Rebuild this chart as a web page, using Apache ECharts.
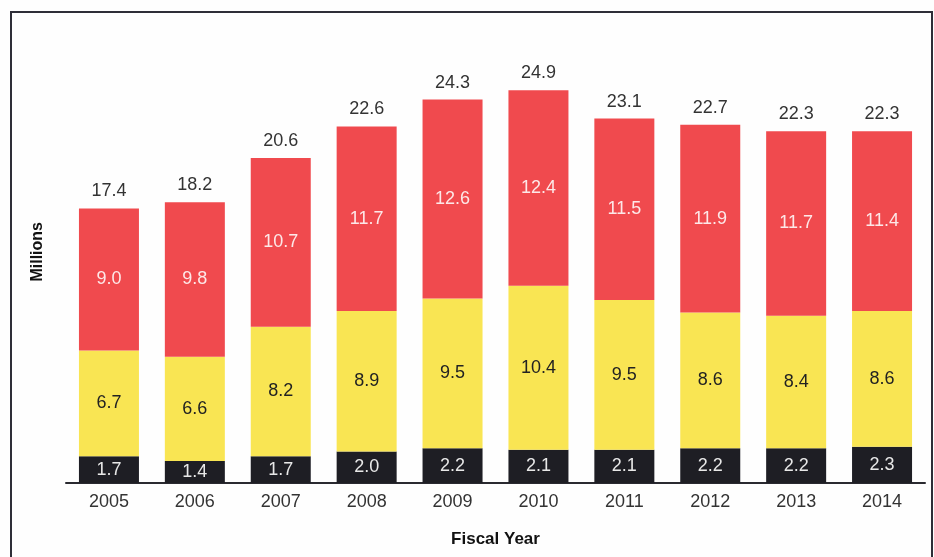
<!DOCTYPE html>
<html>
<head>
<meta charset="utf-8">
<script src="https://cdn.jsdelivr.net/npm/echarts@6/dist/echarts.min.js"></script>
<style>
html,body{margin:0;padding:0;background:#fefefe;}
#c{width:934px;height:557px;}
</style>
</head>
<body>
<div id="c"></div>
<script>
const years = ['2005','2006','2007','2008','2009','2010','2011','2012','2013','2014'];
const blackVals = [1.7,1.4,1.7,2.0,2.2,2.1,2.1,2.2,2.2,2.3];
const yellowVals = [6.7,6.6,8.2,8.9,9.5,10.4,9.5,8.6,8.4,8.6];
const redVals = [9.0,9.8,10.7,11.7,12.6,12.4,11.5,11.9,11.7,11.4];
const totals = [17.4,18.2,20.6,22.6,24.3,24.9,23.1,22.7,22.3,22.3];

const FONT = "'Liberation Sans', Arial, sans-serif";
const chart = echarts.init(document.getElementById('c'), null, {renderer:'canvas'});
const inLabel = (color) => ({
  show: true, position: 'inside', color: color, fontSize: 18, fontFamily: FONT,
  formatter: p => p.value.toFixed(1)
});
chart.setOption({
  animation: false,
  backgroundColor: '#fefefe',
  grid: {left: 66, right: 9, top: 57, bottom: 74},
  xAxis: {
    type: 'category', data: years,
    axisLine: {show: true, lineStyle: {color: '#2a2a30', width: 2}},
    axisTick: {show: false},
    axisLabel: {color: '#333', fontSize: 18, fontFamily: FONT, margin: 10},
    name: 'Fiscal Year', nameLocation: 'middle', nameGap: 48,
    nameTextStyle: {color: '#111', fontSize: 17, fontWeight: 'bold', fontFamily: FONT}
  },
  yAxis: {
    type: 'value', min: 0, max: 27,
    axisLine: {show: false}, axisTick: {show: false}, axisLabel: {show: false},
    splitLine: {show: false}
  },
  series: [
    {type: 'bar', stack: 's', data: blackVals, barWidth: 60,
     itemStyle: {color: '#1e1e24'}, label: inLabel('#e8e8e8')},
    {type: 'bar', stack: 's', data: yellowVals, barWidth: 60,
     itemStyle: {color: '#f9e553'}, label: inLabel('#222')},
    {type: 'bar', stack: 's', data: redVals, barWidth: 60,
     itemStyle: {color: '#f04a4e'}, label: inLabel('#fde8e8')},
    {type: 'bar', stack: 's', data: totals.map(() => 0), barWidth: 60,
     itemStyle: {color: 'transparent'},
     label: {show: true, position: 'top', distance: 8, color: '#333', fontSize: 18, fontFamily: FONT,
       formatter: p => totals[p.dataIndex].toFixed(1)}}
  ],
  graphic: [
    {type: 'rect', shape: {x: 11, y: 12, width: 921, height: 570},
     style: {fill: 'none', stroke: '#2e2e38', lineWidth: 2}, silent: true},
    {type: 'text', left: 30, top: 222, rotation: Math.PI/2,
     style: {text: 'Millions', fill: '#111', font: "bold 16px " + FONT}}
  ]
});
</script>
</body>
</html>
